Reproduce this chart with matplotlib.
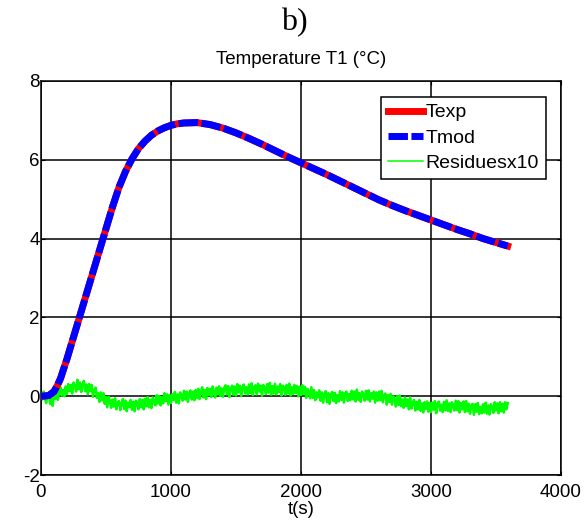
import numpy as np
import matplotlib
matplotlib.use("Agg")
import matplotlib.pyplot as plt

# temperature T1 (degC)
t_temp = [0, 60, 100, 125, 150, 175, 200, 250, 300, 350, 400, 450, 500, 550, 600,
          650, 700, 750, 800, 850, 900, 950, 1000, 1050, 1100, 1200, 1300, 1400,
          1500, 1600, 1700, 1800, 1900, 2000, 2100, 2200, 2300, 2400, 2500, 2600,
          2700, 2800, 2900, 3000, 3100, 3200, 3300, 3400, 3500, 3590]
T_exp = [0.0, 0.02, 0.12, 0.27, 0.45, 0.7, 0.95, 1.5, 2.05, 2.6, 3.15, 3.7, 4.25, 4.8, 5.3,
         5.7, 6.02, 6.28, 6.47, 6.62, 6.73, 6.81, 6.87, 6.91, 6.93, 6.94, 6.89, 6.8,
         6.68, 6.54, 6.39, 6.23, 6.07, 5.92, 5.77, 5.62, 5.46, 5.3, 5.14, 4.98,
         4.84, 4.71, 4.59, 4.47, 4.35, 4.23, 4.12, 4.0, 3.9, 3.81]
T_mod = T_exp

# residues x10, one value every 10 s
res = [0.08, -0.08, 0.12, -0.05, -0.17, 0.04, 0.09, -0.19, -0.07, -0.24, 0.05, -0.07, 0.13, -0.09, 0.12, 0.23, 0.02, 0.16, 0.00, 0.25,
       0.06, 0.31, 0.13, 0.29, 0.07, 0.35, 0.28, 0.12, 0.42, 0.18, 0.35, 0.11, 0.30, 0.39, 0.13, 0.30, 0.05, 0.31, 0.13, 0.29,
       -0.01, 0.16, 0.22, -0.04, 0.08, -0.14, 0.10, -0.10, 0.08, -0.19, -0.02, -0.28, -0.01, -0.12, -0.29, -0.08, -0.26, -0.05, -0.33, -0.16,
       -0.12, -0.35, -0.18, -0.07, -0.32, -0.11, -0.38, -0.16, -0.27, -0.09, -0.34, -0.14, -0.38, -0.11, -0.17, -0.33, -0.07, -0.28, -0.09, -0.33,
       -0.06, -0.25, -0.02, -0.28, -0.09, -0.30, -0.03, -0.10, -0.23, 0.03, -0.18, 0.01, -0.23, -0.02, -0.18, 0.08, -0.12, 0.05, -0.21, 0.03,
       -0.17, 0.05, -0.09, 0.11, -0.16, 0.05, -0.18, 0.10, 0.03, -0.11, 0.14, -0.08, 0.12, -0.14, 0.08, 0.15, -0.08, 0.12, -0.10, 0.16,
       -0.04, 0.19, -0.07, 0.12, 0.23, -0.03, 0.16, -0.07, 0.21, 0.03, 0.19, -0.02, 0.25, 0.12, -0.03, 0.22, 0.05, 0.25, 0.01, 0.20,
       -0.01, 0.22, 0.28, 0.05, 0.26, -0.02, 0.19, 0.27, 0.04, 0.25, 0.02, 0.31, 0.10, 0.27, 0.01, 0.24, 0.30, 0.07, 0.23, 0.05,
       0.30, 0.08, 0.33, 0.03, 0.24, 0.28, 0.05, 0.32, 0.12, 0.27, 0.01, 0.29, 0.21, 0.06, 0.31, 0.09, 0.34, 0.04, 0.26, 0.07,
       0.32, 0.05, 0.25, 0.11, 0.31, 0.02, 0.27, 0.22, 0.04, 0.29, 0.08, 0.32, 0.02, 0.23, 0.06, 0.29, 0.08, 0.26, 0.00, 0.24,
       0.03, 0.28, 0.06, 0.24, -0.04, 0.19, 0.12, -0.05, 0.23, -0.04, 0.16, -0.10, 0.10, -0.03, 0.15, -0.11, 0.10, -0.16, 0.07, 0.13,
       -0.15, 0.08, -0.19, 0.05, 0.11, -0.12, 0.09, -0.17, 0.03, -0.13, 0.13, -0.09, 0.10, -0.16, 0.08, 0.12, -0.12, 0.06, -0.10, 0.14,
       -0.08, 0.12, -0.13, 0.17, -0.09, 0.08, -0.14, 0.12, 0.05, -0.11, 0.14, -0.08, 0.15, -0.13, 0.08, -0.06, 0.12, -0.16, 0.10, -0.11,
       0.12, -0.10, 0.14, -0.15, 0.03, 0.07, -0.21, 0.03, -0.14, 0.06, -0.21, 0.00, -0.08, -0.26, 0.01, -0.22, 0.02, -0.25, -0.08, -0.29,
       -0.03, -0.25, -0.08, -0.33, -0.03, -0.31, -0.15, -0.09, -0.36, -0.14, -0.33, -0.09, -0.37, -0.18, -0.41, -0.15, -0.32, -0.13, -0.39, -0.17,
       -0.40, -0.16, -0.34, -0.12, -0.43, -0.19, -0.13, -0.36, -0.21, -0.40, -0.14, -0.35, -0.10, -0.37, -0.18, -0.40, -0.15, -0.22, -0.36, -0.11,
       -0.35, -0.12, -0.41, -0.17, -0.33, -0.13, -0.40, -0.12, -0.38, -0.19, -0.44, -0.23, -0.19, -0.47, -0.20, -0.39, -0.17, -0.45, -0.27, -0.43,
       -0.20, -0.41, -0.16, -0.44, -0.23, -0.46, -0.20, -0.26, -0.42, -0.15, -0.36, -0.18, -0.43, -0.15, -0.38, -0.19, -0.41, -0.15, -0.33, -0.17]
t_res = np.arange(len(res)) * 10

plt.rcParams['font.family'] = ['Liberation Sans', 'DejaVu Sans']
plt.rcParams['axes.unicode_minus'] = False

fig = plt.figure(figsize=(5.88, 5.28), dpi=100)
ax = fig.add_axes([0.0697, 0.100, 0.8844, 0.747])

ax.plot(t_temp, T_exp, color='#ff0000', lw=5, label='Texp', zorder=3)
ax.plot(t_temp, T_mod, color='#0000ff', lw=5, ls=(0, (2.8, 0.5)), label='Tmod', zorder=4)
ax.plot(t_res, res, color='#00ff00', lw=1.8, label='Residuesx10', zorder=2)

ax.set_xlim(0, 4000)
ax.set_ylim(-2, 8)
ax.set_xticks([0, 1000, 2000, 3000, 4000])
ax.set_yticks([-2, 0, 2, 4, 6, 8])
ax.grid(True, color='black', lw=1.1, ls='-')
ax.set_axisbelow(True)
ax.tick_params(direction='in', length=3, top=True, right=True, labelsize=13.5)
ax.tick_params(axis='x', pad=6)
ax.tick_params(axis='y', pad=1)
for s in ax.spines.values():
    s.set_linewidth(1.1)

ax.set_xlabel('t(s)', fontsize=13.5, labelpad=0)
ax.set_title('Temperature T1 (°C)', fontsize=13.5, pad=12)
fig.text(0.5, 0.958, 'b)', ha='center', va='center', fontsize=23, family='Liberation Serif')

leg = ax.legend(loc='upper right', bbox_to_anchor=(0.971, 0.959), borderaxespad=0,
                fontsize=14, fancybox=False, framealpha=1, edgecolor='black',
                handlelength=1.8, handletextpad=0.15, borderpad=0.35, labelspacing=0.4)
leg.get_frame().set_linewidth(1.1)
leg.get_lines()[2].set_linewidth(1.1)

fig.savefig('out.png', dpi=100)
